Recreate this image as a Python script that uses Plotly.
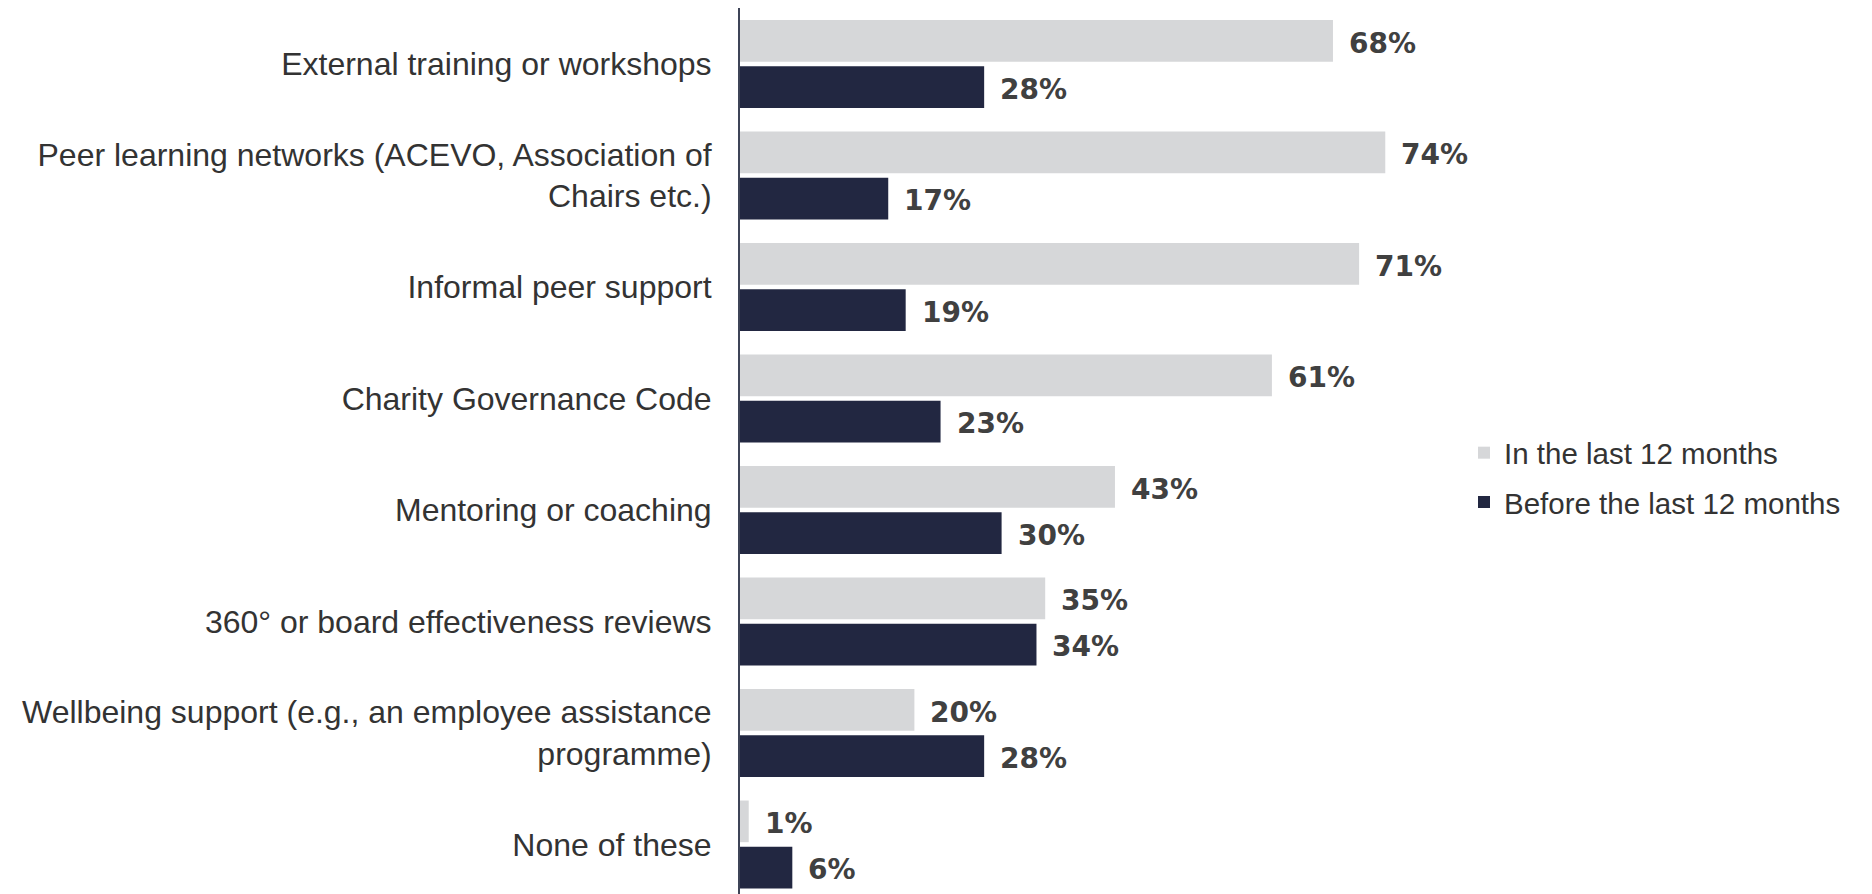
import plotly.graph_objects as go

# Sources of development support, share of respondents (%)
categories = [
    "External training or workshops",
    "Peer learning networks (ACEVO, Association of<br>Chairs etc.)",
    "Informal peer support",
    "Charity Governance Code",
    "Mentoring or coaching",
    "360° or board effectiveness reviews",
    "Wellbeing support (e.g., an employee assistance<br>programme)",
    "None of these",
]
last_12_months = [68, 74, 71, 61, 43, 35, 20, 1]
before_12_months = [28, 17, 19, 23, 30, 34, 28, 6]

series_names = ["In the last 12 months", "Before the last 12 months"]
series_colors = ["#D6D7D9", "#222741"]

W, H = 1872, 894
LEFT, RIGHT, TOP, BOTTOM = 740, 432, 8, 0

fig = go.Figure()
for name, vals, color, grp in zip(series_names, [last_12_months, before_12_months],
                                  series_colors, ["a", "b"]):
    fig.add_trace(go.Bar(
        y=categories,
        x=vals,
        name=name,
        orientation="h",
        marker=dict(color=color, line=dict(width=0)),
        legendgroup=grp,
        hoverinfo="skip",
    ))

# Value labels placed just past the end of each bar
label_font = dict(family="DejaVu Sans", size=28, color="#404040", weight="bold")
for vals, shift in [(last_12_months, 20.5), (before_12_months, -25.5)]:
    for cat, v in zip(categories, vals):
        fig.add_annotation(
            x=v, y=cat, xref="x", yref="y",
            text=f"<b>{v}%</b>",
            showarrow=False,
            xanchor="left", yanchor="middle",
            xshift=14, yshift=shift,
            font=label_font,
        )

fig.update_layout(
    width=W, height=H,
    margin=dict(l=LEFT, r=RIGHT, t=TOP, b=BOTTOM, autoexpand=False),
    paper_bgcolor="white",
    plot_bgcolor="white",
    barmode="group",
    bargap=0.17,
    bargroupgap=0.1,
    showlegend=True,
    legend=dict(
        xref="container", yref="container",
        x=1464 / W, y=1 - 427 / H,
        xanchor="left", yanchor="top",
        traceorder="grouped",
        tracegroupgap=8,
        font=dict(family="Liberation Sans", size=29.5, color="#333333"),
        itemwidth=30,
        bgcolor="rgba(0,0,0,0)",
    ),
    xaxis=dict(
        range=[0, 700 / 8.72],
        visible=False,
        showgrid=False,
        zeroline=False,
    ),
    yaxis=dict(
        range=[7.444, -0.502],
        showline=True,
        linecolor="#3E4457",
        linewidth=2,
        showgrid=False,
        zeroline=False,
        ticks="",
        ticklabelstandoff=20,
        tickfont=dict(family="Liberation Sans", size=32, color="#333333"),
    ),
    font=dict(family="Liberation Sans"),
)

fig.write_html("out.html")
